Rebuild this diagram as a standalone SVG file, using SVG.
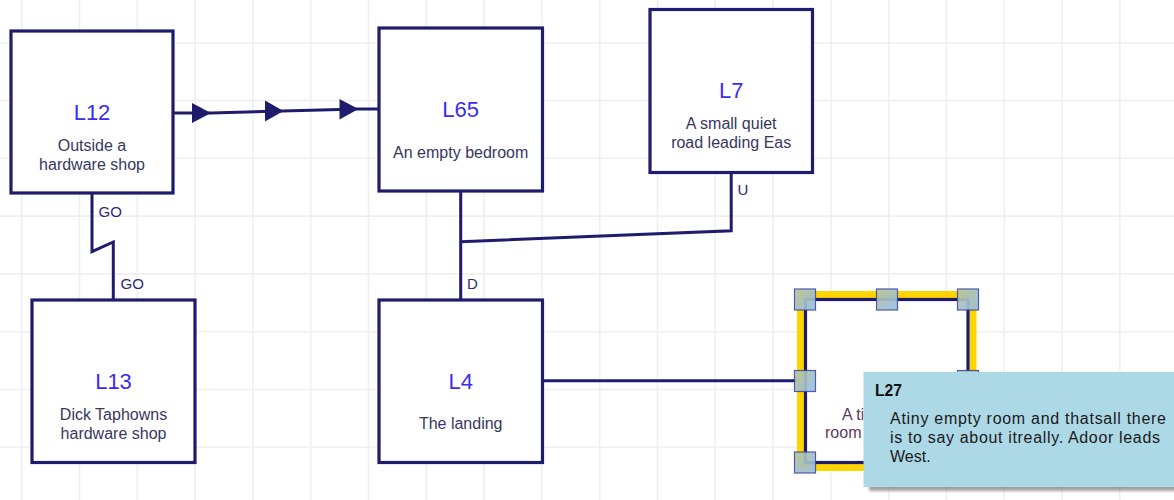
<svg xmlns="http://www.w3.org/2000/svg" width="1174" height="500" viewBox="0 0 1174 500">
  <defs>
    <style>
      .grid{stroke:#efefef;stroke-width:1.6;fill:none}
      .box{fill:#ffffff;stroke:#1f1c6e;stroke-width:3.2}
      .title{font-family:"Liberation Sans",Arial,sans-serif;font-size:22px;fill:#3a2cf2;text-anchor:middle}
      .desc{font-family:"Liberation Sans",Arial,sans-serif;font-size:16px;fill:#38375e;text-anchor:middle}
      .descl{font-family:"Liberation Sans",Arial,sans-serif;font-size:16px;fill:#5a3a5e}
      .conn{fill:none;stroke:#1f1c6e;stroke-width:3;stroke-linejoin:miter}
      .arrow{fill:#1f1c6e}
      .lbl{font-family:"Liberation Sans",Arial,sans-serif;font-size:15px;fill:#2c2a7a}
      .sel{fill:none;stroke:#ffd400;stroke-width:7}
      .handle{fill:url(#hg);stroke:#3d4ea0;stroke-width:1.2;opacity:0.92}
      .tip{fill:#add8e6}
      .tiptitle{font-family:"Liberation Sans",Arial,sans-serif;font-size:16px;font-weight:bold;fill:#111111}
      .tiptext{font-family:"Liberation Sans",Arial,sans-serif;font-size:16px;fill:#1a1a1a}
    </style>
    <linearGradient id="hg" x1="0" y1="0" x2="1" y2="1">
      <stop offset="0" stop-color="#b7c799"/>
      <stop offset="0.5" stop-color="#a6c0c4"/>
      <stop offset="1" stop-color="#98c0e6"/>
    </linearGradient>
    <filter id="shadow" x="-10%" y="-10%" width="130%" height="130%">
      <feGaussianBlur stdDeviation="1.8"/>
    </filter>
    <clipPath id="l27clip">
      <rect x="805" y="300" width="58.5" height="162"/>
    </clipPath>
  </defs>

  <rect x="0" y="0" width="1174" height="500" fill="#ffffff"/>
  <g id="grid">
    <path class="grid" d="M21.7,0V500 M79.5,0V500 M137.3,0V500 M195.1,0V500 M252.9,0V500 M310.7,0V500 M368.5,0V500 M426.3,0V500 M484.1,0V500 M541.9,0V500 M599.7,0V500 M657.5,0V500 M715.3,0V500 M773.1,0V500 M830.9,0V500 M888.7,0V500 M946.5,0V500 M1004.3,0V500 M1062.1,0V500 M1119.9,0V500 M0,42.7H1174 M0,100.5H1174 M0,158.3H1174 M0,216.1H1174 M0,273.9H1174 M0,331.7H1174 M0,389.5H1174 M0,447.3H1174"/>
  </g>

  <g id="connectors">
    <path class="conn" d="M173,113 L211,113 L358,109 L379,109"/>
    <polygon class="arrow" points="192,103 211,113 192,123"/>
    <polygon class="arrow" points="265,100.5 283.5,111 265,121.5"/>
    <polygon class="arrow" points="339.5,99 358.5,109 339.5,119.5"/>
    <path class="conn" d="M92,193 V251.7 L113.3,242 V300"/>
    <text class="lbl" x="98.5" y="216.5">GO</text>
    <text class="lbl" x="120.5" y="288.5">GO</text>
    <path class="conn" d="M460.7,191 V300 M460.7,241.7 L731.2,230.7 V172.5"/>
    <text class="lbl" x="737.5" y="195">U</text>
    <text class="lbl" x="467" y="289">D</text>
    <path class="conn" d="M542.5,380.7 H806"/>
  </g>

  <g id="node-L12">
    <rect class="box" x="11" y="31" width="162" height="162"/>
    <text class="title" x="92" y="120">L12</text>
    <text class="desc" x="92" y="151">Outside a</text>
    <text class="desc" x="92" y="170">hardware shop</text>
  </g>
  <g id="node-L65">
    <rect class="box" x="379" y="28" width="163.5" height="163"/>
    <text class="title" x="460.7" y="117">L65</text>
    <text class="desc" x="460.7" y="157.5">An empty bedroom</text>
  </g>
  <g id="node-L7">
    <rect class="box" x="650" y="9.5" width="162.5" height="163"/>
    <text class="title" x="731.2" y="98">L7</text>
    <text class="desc" x="731.2" y="129">A small quiet</text>
    <text class="desc" x="731.2" y="148">road leading Eas</text>
  </g>
  <g id="node-L13">
    <rect class="box" x="32" y="300" width="163" height="162.5"/>
    <text class="title" x="113.5" y="389">L13</text>
    <text class="desc" x="113.5" y="420">Dick Taphowns</text>
    <text class="desc" x="113.5" y="438.5">hardware shop</text>
  </g>
  <g id="node-L4">
    <rect class="box" x="379" y="300" width="163.5" height="162.5"/>
    <text class="title" x="460.7" y="389">L4</text>
    <text class="desc" x="460.7" y="428.5">The landing</text>
  </g>
  <g id="node-L27">
    <rect class="sel" x="800.5" y="294.5" width="172.5" height="173"/>
    <rect class="box" x="805.5" y="299.5" width="162.5" height="163"/>
    <g clip-path="url(#l27clip)">
      <text class="descl" x="842" y="419.5">A ti</text>
      <text class="descl" x="825" y="437.5">room</text>
    </g>
    <rect class="handle" x="794.5" y="289" width="21" height="21"/>
    <rect class="handle" x="876.5" y="289" width="21" height="21"/>
    <rect class="handle" x="957.5" y="289" width="21" height="21"/>
    <rect class="handle" x="794.5" y="370.5" width="21" height="21"/>
    <rect class="handle" x="957.5" y="370.5" width="21" height="21"/>
    <rect class="handle" x="794.5" y="452" width="21" height="21"/>
  </g>

  <g id="tooltip-L27">
    <rect x="869" y="376" width="320" height="115" fill="#7a7a7a" opacity="0.7" filter="url(#shadow)"/>
    <rect class="tip" x="863.5" y="372" width="320" height="115"/>
    <text class="tiptitle" x="875" y="396" textLength="27" lengthAdjust="spacingAndGlyphs">L27</text>
    <text class="tiptext" x="890" y="424" textLength="276">Atiny empty room and thatsall there</text>
    <text class="tiptext" x="890" y="443" textLength="270">is to say about itreally. Adoor leads</text>
    <text class="tiptext" x="890" y="462">West.</text>
  </g>
</svg>
